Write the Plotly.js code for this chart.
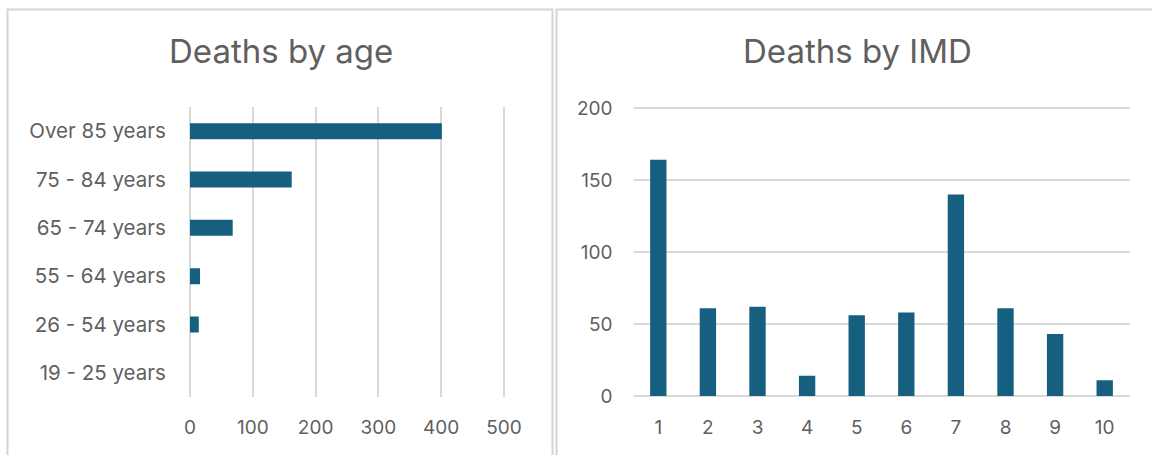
<!DOCTYPE html>
<html>
<head>
<meta charset="utf-8">
<script src="https://cdn.plot.ly/plotly-3.0.1.min.js"></script>
<style>
html,body{margin:0;padding:0;background:#fff;}
#chart{width:1152px;height:455px;}
</style>
</head>
<body>
<div id="chart"></div>
<script>
// Data
const ageGroups = ["Over 85 years", "75 - 84 years", "65 - 74 years", "55 - 64 years", "26 - 54 years", "19 - 25 years"];
const ageDeaths = [401, 162, 68, 16, 14, 0];
const imdDeciles = ["1", "2", "3", "4", "5", "6", "7", "8", "9", "10"];
const imdDeaths = [164, 61, 62, 14, 56, 58, 140, 61, 43, 11];
const ageTicks = [0, 100, 200, 300, 400, 500];
const imdTicks = [0, 50, 100, 150, 200];

const W = 1152, H = 455;
const px = v => v / W;
const py = v => 1 - v / H;

const barColor = "#175f80";
const textColor = "#5f5f5f";
const gridColor = "#d9d9d9";
const fontFamily = "Inter, 'Open Sans', sans-serif";

const traces = [
  {
    type: "bar",
    orientation: "h",
    x: ageDeaths,
    y: ageGroups,
    xaxis: "x",
    yaxis: "y",
    marker: {color: barColor},
    hoverinfo: "x+y"
  },
  {
    type: "bar",
    x: imdDeciles,
    y: imdDeaths,
    xaxis: "x2",
    yaxis: "y2",
    marker: {color: barColor},
    hoverinfo: "x+y"
  }
];

// left x scale: 0 at 190px, 500 at 504px -> pad range by 2 units each side
const lPad = 2, lScale = (504 - 190) / 500;
// right y scale: 0 at 396px, 200 at 108px
const rPad = 1, rScale = (396 - 108) / 200;

const layout = {
  width: W,
  height: H,
  margin: {l: 0, r: 0, t: 0, b: 0},
  paper_bgcolor: "#ffffff",
  plot_bgcolor: "rgba(0,0,0,0)",
  showlegend: false,
  bargap: 0.67,
  font: {family: fontFamily, color: textColor, size: 19},
  xaxis: {
    domain: [px(190 - lPad * lScale), px(504 + lPad * lScale)],
    anchor: "y",
    range: [-lPad, 500 + lPad],
    tickvals: ageTicks,
    ticktext: ageTicks.map(String),
    showgrid: true,
    gridcolor: gridColor,
    gridwidth: 2,
    zeroline: false,
    showline: false,
    ticks: "",
    ticklabelstandoff: 17,
    tickfont: {size: 19, color: textColor, family: fontFamily},
    fixedrange: true
  },
  yaxis: {
    domain: [py(397), py(107)],
    anchor: "x",
    type: "category",
    categoryorder: "array",
    categoryarray: ageGroups,
    autorange: "reversed",
    showgrid: false,
    zeroline: false,
    showline: false,
    ticks: "",
    ticklabelstandoff: 22,
    tickfont: {size: 20.5, color: textColor, family: fontFamily},
    fixedrange: true
  },
  xaxis2: {
    domain: [px(633.5), px(1129.5)],
    anchor: "y2",
    type: "category",
    categoryorder: "array",
    categoryarray: imdDeciles,
    showgrid: false,
    zeroline: false,
    showline: false,
    ticks: "",
    ticklabelstandoff: 17,
    tickfont: {size: 19, color: textColor, family: fontFamily},
    fixedrange: true
  },
  yaxis2: {
    domain: [py(396 + rPad * rScale), py(108 - rPad * rScale)],
    anchor: "x2",
    range: [-rPad, 200 + rPad],
    tickvals: imdTicks,
    ticktext: imdTicks.map(String),
    showgrid: true,
    gridcolor: gridColor,
    gridwidth: 2,
    zeroline: false,
    showline: false,
    ticks: "",
    ticklabelstandoff: 20,
    tickfont: {size: 19, color: textColor, family: fontFamily},
    fixedrange: true
  },
  annotations: [
    {
      text: "Deaths by age",
      xref: "paper", yref: "paper",
      x: px(281), y: py(51),
      xanchor: "center", yanchor: "middle",
      showarrow: false,
      font: {size: 33, color: textColor, family: fontFamily}
    },
    {
      text: "Deaths by IMD",
      xref: "paper", yref: "paper",
      x: px(857), y: py(51),
      xanchor: "center", yanchor: "middle",
      showarrow: false,
      font: {size: 33, color: textColor, family: fontFamily}
    }
  ],
  shapes: [
    {
      type: "rect", xref: "paper", yref: "paper",
      x0: px(7.5), x1: px(552.5), y0: -0.1, y1: py(9.5),
      line: {color: "#d4d4d4", width: 2},
      fillcolor: "rgba(0,0,0,0)",
      layer: "below"
    },
    {
      type: "rect", xref: "paper", yref: "paper",
      x0: px(556.5), x1: 1.1, y0: -0.1, y1: py(9.5),
      line: {color: "#d4d4d4", width: 2},
      fillcolor: "rgba(0,0,0,0)",
      layer: "below"
    }
  ]
};

Plotly.newPlot("chart", traces, layout, {displayModeBar: false, staticPlot: true});
</script>
</body>
</html>
